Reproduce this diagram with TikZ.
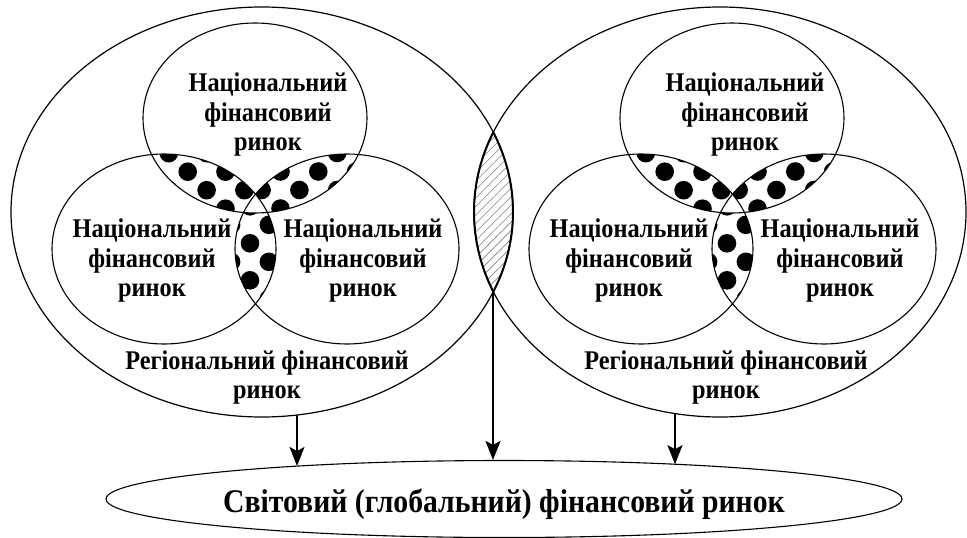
\documentclass[tikz,border=0pt]{standalone}
\usepackage{fontspec}
\setmainfont{Liberation Serif}[FakeStretch=0.9]
\usetikzlibrary{arrows.meta,shapes.geometric,patterns.meta}

\newcommand{\polka}[2]{%
  \foreach \i in {-4,...,4}{
    \foreach \j in {-5,...,5}{
      \fill ({#1+37.8*\i+18.9*mod(\j+10,2)},{#2+18.5*\j}) circle (9.3);
    }
  }}

\begin{document}
\begin{tikzpicture}[x=1pt,y=-1pt,
    ring/.style={line width=1.1pt},
    region/.style={draw,ellipse,line width=1.2pt,minimum width=#1,minimum height=410pt,inner sep=0pt},
    lbl/.style={align=center,font=\fontsize{27}{29.5}\selectfont\bfseries,inner sep=0pt},
    arr/.style={line width=2pt,-{Stealth[length=19pt,width=15pt,inset=4pt]}}]
    \useasboundingbox (0,0) rectangle (967,538);

    % overlap of the two regional markets
    \begin{scope}
        \clip (262,212) ellipse [x radius=251,y radius=205];
        \fill[pattern={Lines[angle=45,distance=6pt,line width=0.6pt]},pattern color=gray] (720,212) ellipse [x radius=246,y radius=205];
        \draw[line width=2pt] (720,212) ellipse [x radius=246,y radius=205];
    \end{scope}
    \begin{scope}
        \clip (720,212) ellipse [x radius=246,y radius=205];
        \draw[line width=2pt] (262,212) ellipse [x radius=251,y radius=205];
    \end{scope}

    % national markets
    \foreach \dx/\g in {0/l,477/r}{
        \begin{scope}[xshift=\dx]
            \begin{scope}
                \clip (255,118) ellipse [x radius=112,y radius=95];
                \clip (164,249) ellipse [x radius=112,y radius=95];
                \polka{187.7}{171.7}
            \end{scope}
            \begin{scope}
                \clip (255,118) ellipse [x radius=112,y radius=95];
                \clip (347,249) ellipse [x radius=112,y radius=95];
                \polka{280.5}{171.5}
            \end{scope}
            \begin{scope}
                \clip (164,249) ellipse [x radius=112,y radius=95];
                \clip (347,249) ellipse [x radius=112,y radius=95];
                \polka{250}{243.3}
            \end{scope}
            \begin{scope}
                \clip (255,118) ellipse [x radius=112,y radius=95];
                \clip (164,249) ellipse [x radius=112,y radius=95];
                \fill[white] (347,249) ellipse [x radius=112,y radius=95];
            \end{scope}
            \draw[ring] (255,118) ellipse [x radius=112,y radius=95];
            \draw[ring] (164,249) ellipse [x radius=112,y radius=95];
            \draw[ring] (347,249) ellipse [x radius=112,y radius=95];
            \node[lbl] (top\g) at (268,115) {Національний\\фінансовий\\ринок};
            \node[lbl] (left\g) at (152,260.6) {Національний\\фінансовий\\ринок};
            \node[lbl] (right\g) at (363,260.6) {Національний\\фінансовий\\ринок};
        \end{scope}
    }

    \node[region=502pt] (regL) at (262,212) {};
    \node[region=492pt] (regR) at (720,212) {};
    \node[lbl,font=\fontsize{27}{28.5}\selectfont\bfseries] (regLtxt) at (267,377.4) {Регіональний фінансовий\\ринок};
    \node[lbl,font=\fontsize{27}{28.5}\selectfont\bfseries] (regRtxt) at (726,377.4) {Регіональний фінансовий\\ринок};

    \node[draw,ellipse,line width=1.1pt,minimum width=796pt,minimum height=77pt,inner sep=0pt] (world) at (504,499) {};
    \node[font=\fontsize{33}{36}\selectfont\bfseries,inner sep=0pt] (worldtxt) at (504,504) {Світовий (глобальний) фінансовий ринок};

    \coordinate (outL) at (297,415);
    \coordinate (inL) at (297,466);
    \coordinate (lensB) at (493,292);
    \coordinate (outR) at (675,413.5);
    \coordinate (inR) at (675,464.2);
    \draw[arr] (outL) -- (inL);
    \draw[arr] (lensB) -- (lensB |- world.north);
    \draw[arr] (outR) -- (inR);
\end{tikzpicture}
\end{document}
